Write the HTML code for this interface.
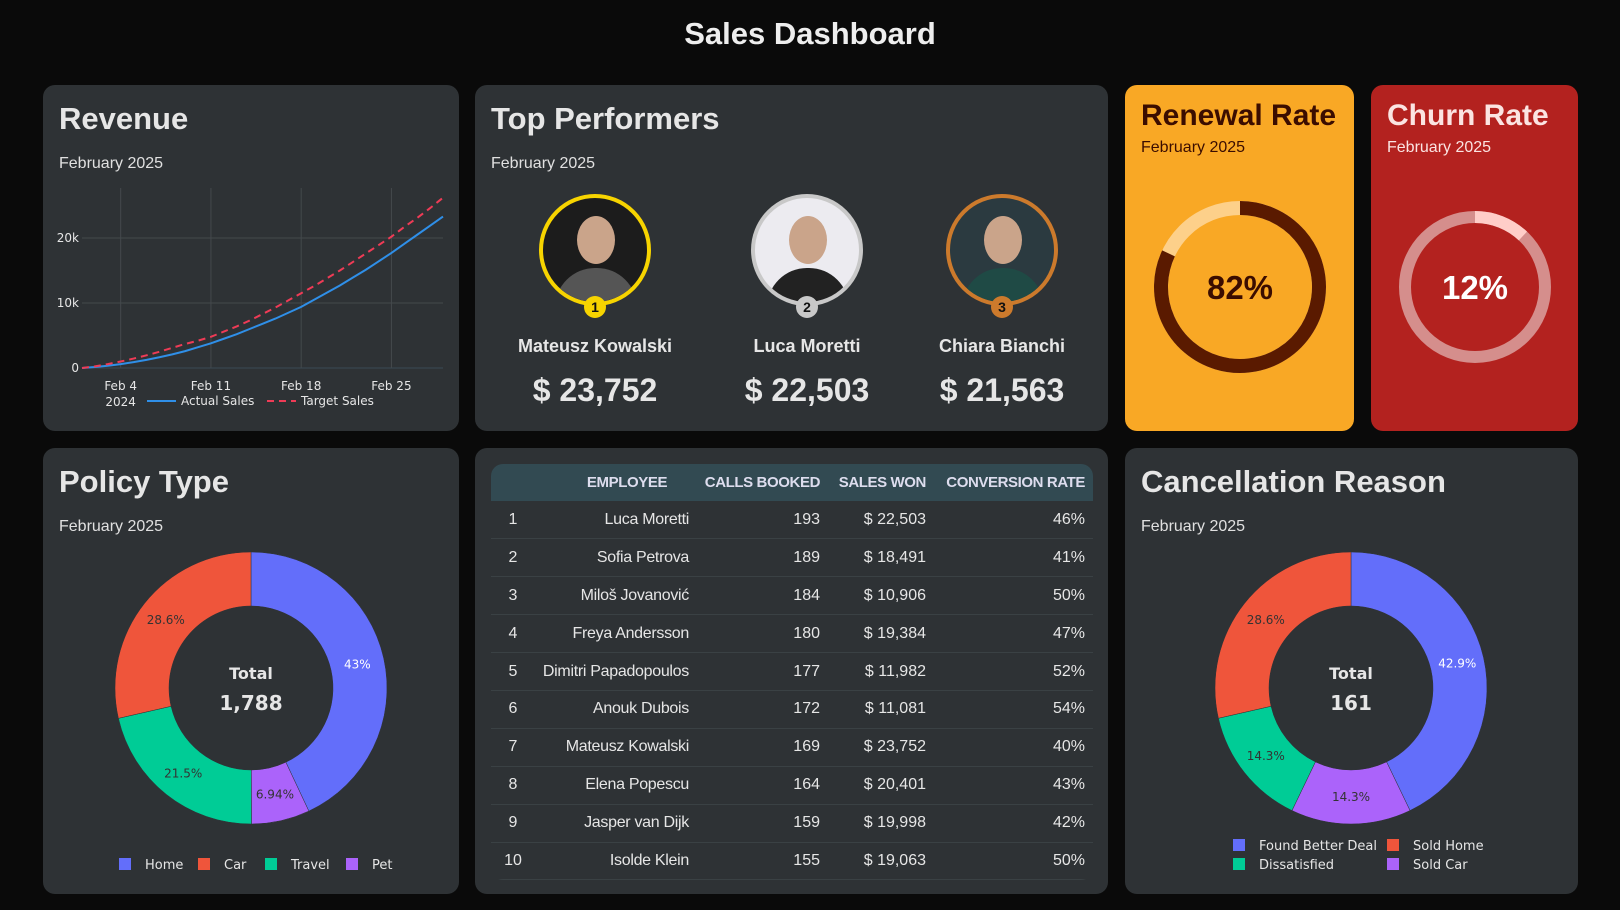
<!DOCTYPE html>
<html><head><meta charset="utf-8">
<style>
*{box-sizing:border-box;margin:0;padding:0}
body{width:1620px;height:910px;background:#0a0a0a;font-family:"Liberation Sans",sans-serif;color:#e8e8e8;position:relative;overflow:hidden}
.card{position:absolute;background:#2e3235;border-radius:12px;overflow:hidden}
.h{position:absolute;left:16px;top:16px;font-size:31px;font-weight:bold;color:#e6e6e6}
.sub{position:absolute;left:16px;top:70px;font-size:16px;color:#e0e0e0}
svg{position:absolute;left:0;top:0}
table{border-collapse:collapse;font-size:16px;color:#e6e6e6;table-layout:fixed}
th{white-space:nowrap;letter-spacing:-0.4px}
</style></head><body>
<div style="position:absolute;left:0;width:1620px;top:16px;text-align:center;font-size:31px;font-weight:bold;color:#eee">Sales Dashboard</div>

<div class="card" style="left:43px;top:85px;width:416px;height:346px">
 <div class="h">Revenue</div>
 <div class="sub">February 2025</div>
</div>
<svg id="rev" width="1620" height="910" style="pointer-events:none"></svg>

<div class="card" style="left:475px;top:85px;width:633px;height:346px">
 <div class="h">Top Performers</div>
 <div class="sub">February 2025</div>
</div>
<div id="perf"></div>

<div class="card" style="left:1125px;top:85px;width:229px;height:346px;background:#f9a825">
 <div class="h" style="color:#3b0d00;top:14px;font-size:30px">Renewal Rate</div>
 <div class="sub" style="color:#3b0d00;top:54px">February 2025</div>
</div>
<div class="card" style="left:1371px;top:85px;width:207px;height:346px;background:#b3221f">
 <div class="h" style="color:#fbe4e2;top:14px;font-size:30px">Churn Rate</div>
 <div class="sub" style="color:#fbe4e2;top:54px">February 2025</div>
</div>
<svg id="gauges" width="1620" height="910" style="pointer-events:none"></svg>

<div class="card" style="left:43px;top:448px;width:416px;height:446px">
 <div class="h">Policy Type</div>
 <div class="sub">February 2025</div>
</div>
<div class="card" style="left:475px;top:448px;width:633px;height:446px">
 <div style="position:absolute;left:16px;top:16px;width:602px;height:416px;border-radius:12px;overflow:hidden">
 <table id="tbl" style="width:602px"></table></div>
</div>
<div class="card" style="left:1125px;top:448px;width:453px;height:446px">
 <div class="h">Cancellation Reason</div>
 <div class="sub">February 2025</div>
</div>
<svg id="pies" width="1620" height="910" style="pointer-events:none"></svg>

<script>
const NS="http://www.w3.org/2000/svg";
function mk(p,t,a,txt){const e=document.createElementNS(NS,t);for(const k in a)e.setAttribute(k,a[k]);if(txt!=null)e.textContent=txt;p.appendChild(e);return e;}

// Revenue data (Feb 1..29, thousands)
const revDays=[1,2,3,4,5,6,7,8,9,10,11,12,13,14,15,16,17,18,19,20,21,22,23,24,25,26,27,28,29];
const actualSales=[0,0.15,0.35,0.6,0.9,1.25,1.65,2.1,2.6,3.2,3.8,4.5,5.2,6.0,6.8,7.6,8.5,9.4,10.5,11.6,12.7,13.9,15.1,16.4,17.7,19.1,20.5,21.9,23.3];
const targetSales=[0,0.25,0.6,1.0,1.45,1.95,2.5,3.1,3.7,4.2,4.8,5.6,6.4,7.3,8.3,9.3,10.4,11.5,12.6,13.8,15.0,16.3,17.6,18.9,20.2,21.7,23.1,24.6,26.2];
const yTicks=[0,10,20];
const yTickLabels=["0","10k","20k"];
const xTicks=[4,11,18,25];
const xTickLabels=["Feb 4","Feb 11","Feb 18","Feb 25"];

const rev=document.getElementById('rev');
const rx=d=>82+(d-1)*(361/28);
const ry=v=>368-v*6.5;
mk(rev,'line',{x1:82,x2:443,y1:368,y2:368,stroke:'#3a4a55','stroke-width':1});
yTicks.forEach((t,i)=>{
 if(t>0){const g=mk(rev,'line',{x1:82,x2:443,y1:ry(t),y2:ry(t),stroke:'#44494c','stroke-width':1});}
 const l=mk(rev,'text',{x:79,y:ry(t)+4,'text-anchor':'end','font-size':12,fill:'#e6e6e6','font-family':'DejaVu Sans, sans-serif'},yTickLabels[i]);
 
});
xTicks.forEach((t,i)=>{
 const g=mk(rev,'line',{x1:rx(t),x2:rx(t),y1:188,y2:368,stroke:'#44494c','stroke-width':1});
 
 const l=mk(rev,'text',{x:rx(t),y:390,'text-anchor':'middle','font-size':12,fill:'#e6e6e6','font-family':'DejaVu Sans, sans-serif'},xTickLabels[i]);
 
});
const yr=mk(rev,'text',{x:rx(4),y:406,'text-anchor':'middle','font-size':12,fill:'#e6e6e6','font-family':'DejaVu Sans, sans-serif'},'2024');

const pa=mk(rev,'path',{d:actualSales.map((v,i)=>(i?'L':'M')+rx(revDays[i])+','+ry(v)).join(''),fill:'none',stroke:'#2f8fe8','stroke-width':2});

const pt=mk(rev,'path',{d:targetSales.map((v,i)=>(i?'L':'M')+rx(revDays[i])+','+ry(v)).join(''),fill:'none',stroke:'#ef3b56','stroke-width':2,'stroke-dasharray':'7,5'});

const lg1=mk(rev,'g',{});
mk(lg1,'line',{x1:147,x2:176,y1:401,y2:401,stroke:'#2f8fe8','stroke-width':2});
mk(lg1,'text',{x:181,y:405,'font-size':12,fill:'#e6e6e6','font-family':'DejaVu Sans, sans-serif'},'Actual Sales');
const lg2=mk(rev,'g',{});
mk(lg2,'line',{x1:267,x2:296,y1:401,y2:401,stroke:'#ef3b56','stroke-width':2,'stroke-dasharray':'7,5'});
mk(lg2,'text',{x:301,y:405,'font-size':12,fill:'#e6e6e6','font-family':'DejaVu Sans, sans-serif'},'Target Sales');

// Performers
const perfNames=["Mateusz Kowalski","Luca Moretti","Chiara Bianchi"];
const perfSales=["$ 23,752","$ 22,503","$ 21,563"];
const perfX=[595,807,1002];
const perfColors=["#f7d400","#c8c8c8","#cc7a2c"];
const perfBg=["#1c1c1c","#ecebf0","#2b3a40"];
const perfBody=["#555","#222","#1f4a45"];
const perf=document.getElementById('perf');
perfNames.forEach((n,i)=>{
 const d=document.createElement('div');
 
 
 d.style.cssText=`position:absolute;left:${perfX[i]-120}px;top:194px;width:240px;height:224px;text-align:center`;
 d.innerHTML=`<div style="position:absolute;left:64px;top:0;width:112px;height:112px;border-radius:50%;border:4px solid ${perfColors[i]};background:${perfBg[i]};overflow:hidden">
  <div style="position:absolute;left:34px;top:18px;width:38px;height:48px;border-radius:50%;background:#caa48a"></div>
  <div style="position:absolute;left:12px;top:70px;width:82px;height:50px;border-radius:40px 40px 0 0;background:${perfBody[i]}"></div></div>
  <div style="position:absolute;left:109px;top:102px;width:22px;height:22px;border-radius:50%;background:${perfColors[i]};color:#111;font-weight:bold;font-size:14px;line-height:22px">${i+1}</div>
  <div style="position:absolute;left:0;width:240px;top:142px;font-size:18px;font-weight:bold;color:#e6e6e6">${n}</div>
  <div style="position:absolute;left:0;width:240px;top:178px;font-size:32px;font-weight:bold;color:#e6e6e6">${perfSales[i]}</div>`;
 perf.appendChild(d);
});

// Gauges
const renewalRate=82, churnRate=12;
const gs=document.getElementById('gauges');
function arc(cx,cy,r,f){const a=f*2*Math.PI;const x=cx+r*Math.sin(a),y=cy-r*Math.cos(a);return `M${cx},${cy-r}A${r},${r} 0 ${f>0.5?1:0} 1 ${x},${y}`;}
function gauge(cx,cy,r,w,val,track,prog,tc,name){
 const g=mk(gs,'g',{});
 mk(g,'circle',{cx,cy,r,fill:'none',stroke:track,'stroke-width':w});
 mk(g,'path',{d:arc(cx,cy,r,val/100),fill:'none',stroke:prog,'stroke-width':w});
 mk(g,'text',{x:cx,y:cy+12,'text-anchor':'middle','font-size':33,'font-weight':'bold',fill:tc,'font-family':'Liberation Sans, sans-serif'},val+'%');
}
gauge(1240,287,79,14,renewalRate,'#fdd08a','#5a1a00','#3b0d00','renewal-gauge');
gauge(1475,287,70,12,churnRate,'#d58e8c','#ffcdc8','#fff','churn-gauge');

// Donuts
const policyLabels=["Home","Pet","Travel","Car"];
const policyValues=[769,124,384,511];
const policyPct=["43%","6.94%","21.5%","28.6%"];
const cancelLabels=["Found Better Deal","Sold Car","Dissatisfied","Sold Home"];
const cancelValues=[69,23,23,46];
const cancelPct=["42.9%","14.3%","14.3%","28.6%"];
const colorMap={"Home":"#636efa","Car":"#ef553b","Travel":"#00cc96","Pet":"#ab63fa","Found Better Deal":"#636efa","Sold Home":"#ef553b","Dissatisfied":"#00cc96","Sold Car":"#ab63fa"};
const ps=document.getElementById('pies');
function donut(cx,cy,R,r,labels,vals,pct,total,name){
 const tot=vals.reduce((a,b)=>a+b,0);let acc=0;
 vals.forEach((v,i)=>{
  const a0=acc/tot*2*Math.PI;acc+=v;const a1=acc/tot*2*Math.PI;
  const P=(rr,a)=>[cx+rr*Math.sin(a),cy-rr*Math.cos(a)];
  const l=(a1-a0)>Math.PI?1:0;
  const [x0,y0]=P(R,a0),[x1,y1]=P(R,a1),[x2,y2]=P(r,a1),[x3,y3]=P(r,a0);
  const s=mk(ps,'path',{d:`M${x0},${y0}A${R},${R} 0 ${l} 1 ${x1},${y1}L${x2},${y2}A${r},${r} 0 ${l} 0 ${x3},${y3}Z`,fill:colorMap[labels[i]],stroke:'#2e3235','stroke-width':0.5});
  
  
  const am=(a0+a1)/2;const [tx,ty]=P((R+r)/2,am);
  const t=mk(ps,'text',{x:tx,y:ty+4,'text-anchor':'middle','font-size':12,fill:i==0?'#fff':'#333','font-family':'DejaVu Sans, sans-serif'},pct[i]);
  
 });
 const t1=mk(ps,'text',{x:cx,y:cy-9,'text-anchor':'middle','font-size':16,'font-weight':'bold',fill:'#e6e6e6','font-family':'DejaVu Sans, sans-serif'},'Total');
 
 const t2=mk(ps,'text',{x:cx,y:cy+22,'text-anchor':'middle','font-size':20,'font-weight':'bold',fill:'#e6e6e6','font-family':'DejaVu Sans, sans-serif'},total);
 
}
donut(251,688,136,82,policyLabels,policyValues,policyPct,'1,788','policy');
donut(1351,688,136,82,cancelLabels,cancelValues,cancelPct,'161','cancellation');
function legend(items,pos){
 items.forEach((lab,i)=>{
  const g=mk(ps,'g',{});
  
  
  const [x,y]=pos[i];
  mk(g,'rect',{x:x,y:y-6,width:12,height:12,fill:colorMap[lab]});
  mk(g,'text',{x:x+26,y:y+5,'font-size':13,fill:'#e6e6e6','font-family':'DejaVu Sans, sans-serif'},lab);
 });
}
legend(["Home","Car","Travel","Pet"],[[119,864],[198,864],[265,864],[346,864]]);
legend(["Found Better Deal","Sold Home","Dissatisfied","Sold Car"],[[1233,845],[1387,845],[1233,864],[1387,864]]);

// Table
const rank=[1,2,3,4,5,6,7,8,9,10];
const employees=["Luca Moretti","Sofia Petrova","Miloš Jovanović","Freya Andersson","Dimitri Papadopoulos","Anouk Dubois","Mateusz Kowalski","Elena Popescu","Jasper van Dijk","Isolde Klein"];
const calls=[193,189,184,180,177,172,169,164,159,155];
const salesWon=["$ 22,503","$ 18,491","$ 10,906","$ 19,384","$ 11,982","$ 11,081","$ 23,752","$ 20,401","$ 19,998","$ 19,063"];
const conv=["46%","41%","50%","47%","52%","54%","40%","43%","42%","50%"];
const tbl=document.getElementById('tbl');
let h='<colgroup><col style="width:44px"><col style="width:154px"><col style="width:131px"><col style="width:106px"><col></colgroup><tr style="background:#324a52;height:37px;font-weight:bold;font-size:15px;color:#dde"><th></th><th style="text-align:center;padding-left:30px">EMPLOYEE</th><th style="text-align:right">CALLS BOOKED</th><th style="text-align:right">SALES WON</th><th style="text-align:right;padding-right:8px">CONVERSION RATE</th></tr>';
rank.forEach((r,i)=>{
 h+=`<tr style="height:37.9px;border-bottom:1px solid #3a4144"><td style="text-align:center">${r}</td><td style="text-align:right;white-space:nowrap;letter-spacing:-0.3px">${employees[i]}</td><td style="text-align:right">${calls[i]}</td><td style="text-align:right">${salesWon[i]}</td><td style="text-align:right;padding-right:8px">${conv[i]}</td></tr>`;
});
tbl.innerHTML=h;
</script>
</body></html>
